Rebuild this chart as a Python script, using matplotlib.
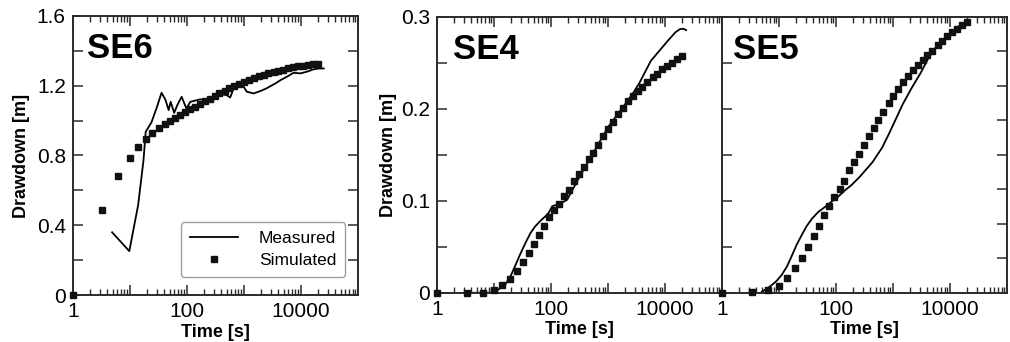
import matplotlib
matplotlib.use("Agg")
import matplotlib.pyplot as plt
from matplotlib.ticker import LogLocator, NullFormatter

plt.rcParams['font.family'] = ['Liberation Sans', 'DejaVu Sans']

# simulated output times (s), same for all wells
sim_time = [1, 3.3, 6.3, 10, 14, 19, 25, 32, 41, 50, 62, 76, 93, 115, 138, 170, 204,
            251, 309, 372, 457, 550, 676, 832, 1000, 1230, 1479, 1820, 2239, 2692,
            3311, 3981, 4898, 6026, 7244, 8913, 10715, 13183, 16218, 19498]

se6_sim = [0, 0.49, 0.685, 0.785, 0.85, 0.895, 0.93, 0.958, 0.982, 1.0, 1.015, 1.03,
           1.05, 1.065, 1.08, 1.095, 1.11, 1.125, 1.14, 1.155, 1.17, 1.185, 1.198, 1.21,
           1.222, 1.233, 1.243, 1.253, 1.262, 1.27, 1.278, 1.285, 1.292, 1.298, 1.304,
           1.31, 1.315, 1.319, 1.323, 1.326]
se4_sim = [0, 0, 0, 0.003, 0.008, 0.015, 0.024, 0.033, 0.043, 0.053, 0.063, 0.073,
           0.082, 0.090, 0.097, 0.105, 0.112, 0.121, 0.129, 0.137, 0.145, 0.152, 0.161,
           0.170, 0.178, 0.186, 0.194, 0.201, 0.208, 0.214, 0.219, 0.224, 0.229, 0.234,
           0.238, 0.243, 0.246, 0.250, 0.254, 0.257]
se5_sim = [0, 0.001, 0.003, 0.007, 0.016, 0.027, 0.038, 0.050, 0.062, 0.073, 0.084,
           0.094, 0.104, 0.113, 0.122, 0.133, 0.142, 0.151, 0.161, 0.170, 0.179, 0.188,
           0.197, 0.206, 0.214, 0.221, 0.229, 0.236, 0.242, 0.248, 0.253, 0.258, 0.263,
           0.269, 0.274, 0.279, 0.283, 0.287, 0.291, 0.294]

# measured drawdown
se6_time = [4.9, 9.8, 14, 17.4, 19, 24, 30, 36, 42, 48, 52, 60, 68, 81, 98, 115, 170,
            240, 339, 501, 575, 661, 912, 1122, 1479, 1995, 2512, 3548, 4365, 5623,
            7413, 9772, 12589, 16596, 20417, 25119]
se6_meas = [0.36, 0.252, 0.515, 0.773, 0.935, 0.99, 1.078, 1.159, 1.12, 1.06, 1.107,
            1.044, 1.088, 1.136, 1.069, 1.107, 1.121, 1.117, 1.155, 1.145, 1.132, 1.184,
            1.212, 1.165, 1.155, 1.17, 1.185, 1.212, 1.231, 1.25, 1.273, 1.27, 1.279,
            1.293, 1.298, 1.298]

se4_time = [3.3, 9.2, 12, 15.8, 19.5, 23.4, 28.8, 35.5, 43.7, 52.5, 64.6, 79.4, 91.2,
            105, 129, 155, 191, 316, 562, 1000, 1995, 2818, 3548, 4467, 5623, 7943,
            11220, 15136, 18197, 20893, 23442]
se4_meas = [0, 0.0, 0.0036, 0.009, 0.018, 0.029, 0.042, 0.054, 0.065, 0.072, 0.078,
            0.083, 0.087, 0.094, 0.096, 0.098, 0.101, 0.126, 0.153, 0.180, 0.205, 0.218,
            0.228, 0.240, 0.252, 0.263, 0.274, 0.283, 0.2865, 0.287, 0.2855]

se5_time = [5.0, 7.0, 9.1, 11.2, 13.8, 16.6, 20.4, 25.1, 30.2, 37.2, 49, 63.1, 83.2,
            107, 141, 186, 257, 437, 646, 851, 1096, 1479, 2138, 3020, 4169, 5495, 7079,
            9333, 12303, 15849, 20893]
se5_meas = [0.001, 0.007, 0.013, 0.0196, 0.0287, 0.0396, 0.0523, 0.063, 0.072, 0.080,
            0.088, 0.093, 0.099, 0.104, 0.111, 0.117, 0.1257, 0.142, 0.158, 0.173,
            0.1876, 0.205, 0.223, 0.2385, 0.255, 0.266, 0.273, 0.279, 0.2865, 0.292,
            0.2948]

x_ticks = [1, 10, 100, 1000, 10000, 100000]
x_labels = ["1", "", "100", "", "10000", ""]
y6_ticks = [0, 0.2, 0.4, 0.6, 0.8, 1.0, 1.2, 1.4, 1.6]
y6_labels = ["0", "", "0.4", "", "0.8", "", "1.2", "", "1.6"]
y4_ticks = [0, 0.05, 0.1, 0.15, 0.2, 0.25, 0.3]
y4_labels = ["0", "", "0.1", "", "0.2", "", "0.3"]

frame = "#2a2a2a"


def style(ax, ylim, yticks, ylabels, name, name_x):
    ax.set_xscale("log")
    ax.set_xlim(1, 100000)
    ax.set_xticks(x_ticks)
    ax.set_xticklabels(x_labels)
    ax.xaxis.set_minor_locator(LogLocator(base=10, subs=range(2, 10), numticks=20))
    ax.xaxis.set_minor_formatter(NullFormatter())
    ax.set_ylim(ylim)
    ax.set_yticks(yticks)
    ax.set_yticklabels(ylabels)
    ax.tick_params(which="both", direction="in", top=True, right=True,
                   labelsize=15, pad=5, color=frame)
    ax.tick_params(which="major", length=7, width=1.1)
    ax.tick_params(which="minor", length=4, width=1.0)
    for s in ax.spines.values():
        s.set_color(frame)
        s.set_linewidth(1.4)
    ax.set_xlabel("Time [s]", fontsize=13, fontweight="bold", labelpad=2)
    ax.text(name_x, 0.94, name, transform=ax.transAxes, fontsize=25,
            fontweight="bold", va="top", ha="left")


def draw(ax, mt, mv, sv):
    ax.plot(mt, mv, color="black", lw=1.3, label="Measured")
    ax.plot(sim_time, sv, ls="none", marker="s", ms=4, color="#111111",
            label="Simulated", clip_on=False, zorder=3)


fig = plt.figure(figsize=(10.1, 3.42), dpi=100)

ax1 = fig.add_axes([0.072, 0.137, 0.2825, 0.817])
draw(ax1, se6_time, se6_meas, se6_sim)
style(ax1, (0, 1.6), y6_ticks, y6_labels, "SE6", 0.05)
ax1.set_ylabel("Drawdown [m]", fontsize=13, fontweight="bold", labelpad=5)
leg = ax1.legend(loc="lower right", bbox_to_anchor=(0.985, 0.035), fontsize=12.5,
                 frameon=True, fancybox=True, handlelength=2.8, borderpad=0.5,
                 labelspacing=0.4, handletextpad=1.2, markerfirst=True)
leg.get_frame().set_edgecolor("#888888")
leg.get_frame().set_linewidth(1.0)

ax2 = fig.add_axes([0.4327, 0.144, 0.2822, 0.807])
draw(ax2, se4_time, se4_meas, se4_sim)
style(ax2, (0, 0.3), y4_ticks, y4_labels, "SE4", 0.056)
ax2.tick_params(which="both", right=False)
ax2.set_ylabel("Drawdown [m]", fontsize=13, fontweight="bold", labelpad=3)

ax3 = fig.add_axes([0.7149, 0.144, 0.2822, 0.807])
draw(ax3, se5_time, se5_meas, se5_sim)
style(ax3, (0, 0.3), y4_ticks, y4_labels, "SE5", 0.04)
ax3.tick_params(which="both", right=False, labelleft=False)
ax3.set_zorder(2)
tw = ax3.twinx()
tw.set_ylim(0, 1.6)
tw.set_yticks(y6_ticks[1:-1])
tw.tick_params(direction="in", length=7, width=1.1, color=frame, labelright=False)
for s in tw.spines.values():
    s.set_visible(False)

fig.savefig("out.png", dpi=100)
